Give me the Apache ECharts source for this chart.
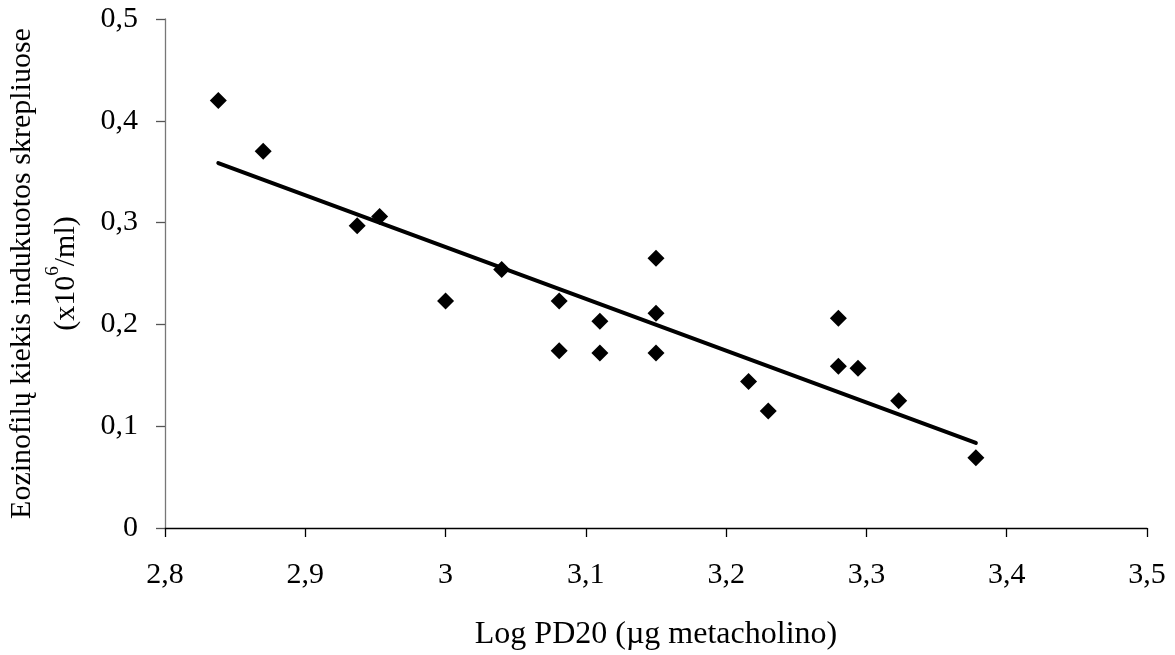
<!DOCTYPE html>
<html><head><meta charset="utf-8">
<script src="https://cdn.jsdelivr.net/npm/echarts@6/dist/echarts.min.js"></script>
<style>html,body{margin:0;padding:0;background:#fff}#c{width:1175px;height:655px}</style>
</head><body><div id="c"></div>
<script>
const xValues = [2.838, 2.870, 2.937, 2.953, 3.000, 3.040, 3.081, 3.081, 3.110, 3.110, 3.150, 3.150, 3.150, 3.216, 3.230, 3.280, 3.280, 3.294, 3.323, 3.378];
const yValues = [0.420, 0.370, 0.297, 0.306, 0.223, 0.254, 0.223, 0.174, 0.203, 0.172, 0.265, 0.211, 0.172, 0.144, 0.115, 0.206, 0.159, 0.157, 0.125, 0.069];
const trendX = [2.838, 3.378];
const trendY = [0.3585, 0.0835];
const xTicks = [2.8, 2.9, 3.0, 3.1, 3.2, 3.3, 3.4, 3.5];
const yTicks = [0, 0.1, 0.2, 0.3, 0.4, 0.5];

const fmt = v => {
  const r = Math.round(v * 10) / 10;
  return (Number.isInteger(r) ? String(r) : r.toFixed(1)).replace('.', ',');
};
const font = '"Liberation Serif", "Times New Roman", serif';
const chart = echarts.init(document.getElementById('c'));
chart.setOption({
  animation: false,
  backgroundColor: '#fff',
  grid: {left: 165, right: 28, top: 19, bottom: 127, containLabel: false, outerBoundsMode: 'none'},
  xAxis: {
    type: 'value', min: xTicks[0], max: xTicks[xTicks.length - 1], interval: 0.1,
    axisLine: {show: true, lineStyle: {color: '#000', width: 1.3}},
    axisTick: {show: true, inside: false, length: 9, lineStyle: {color: '#000', width: 1.3}},
    axisLabel: {formatter: fmt, color: '#000', fontFamily: font, fontSize: 30, margin: 32},
    splitLine: {show: false},
    name: 'Log PD20 (µg metacholino)', nameLocation: 'middle', nameGap: 91,
    nameTextStyle: {color: '#000', fontFamily: font, fontSize: 32}
  },
  yAxis: {
    type: 'value', min: yTicks[0], max: yTicks[yTicks.length - 1], interval: 0.1,
    axisLine: {show: true, lineStyle: {color: '#777', width: 1.3}},
    axisTick: {show: true, inside: false, length: 9, lineStyle: {color: '#555', width: 1.3}},
    axisLabel: {formatter: fmt, color: '#000', fontFamily: font, fontSize: 30, margin: 27},
    splitLine: {show: false},
    name: 'Eozinofilų kiekis indukuotos skrepliuose\n(x10{s|6}/ml)',
    nameLocation: 'middle', nameRotate: 90, nameGap: 77,
    nameTextStyle: {color: '#000', fontFamily: font, fontSize: 30, lineHeight: 44,
      rich: {s: {fontSize: 19, fontFamily: font, color: '#000', verticalAlign: 'top', lineHeight: 44, padding: [0, 0, 14, 0]}}}
  },
  series: [
    {
      type: 'line', data: trendX.map((x, i) => [x, trendY[i]]),
      showSymbol: false, symbol: 'none',
      lineStyle: {color: '#000', width: 4, cap: 'round'}, z: 2
    },
    {
      type: 'scatter', data: xValues.map((x, i) => [x, yValues[i]]),
      symbol: 'diamond', symbolSize: 17,
      itemStyle: {color: '#000', opacity: 1}, z: 3
    }
  ]
});
</script></body></html>
